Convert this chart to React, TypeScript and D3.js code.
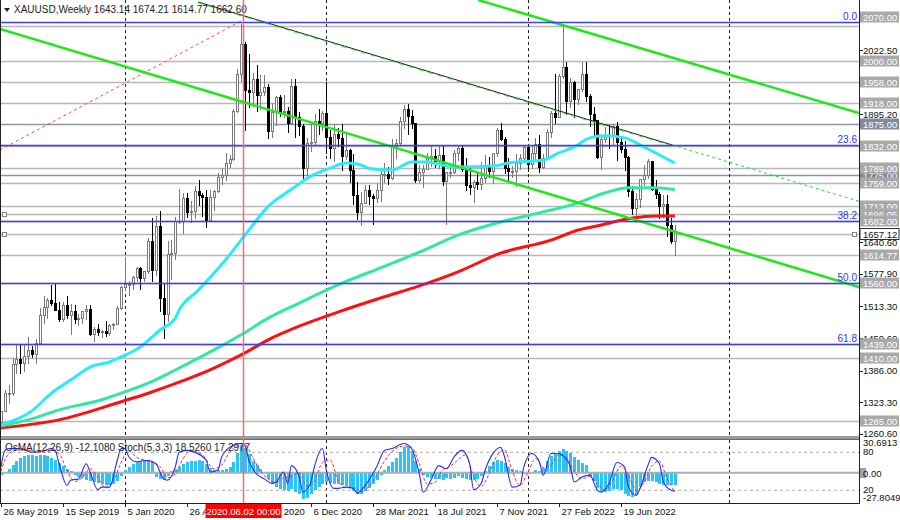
import React from 'react';
import * as d3 from 'd3';

// weekly XAUUSD bars, 26 May 2019 .. 25 Sep 2022
const opens = [
  1283, 1305, 1341, 1341, 1399, 1409, 1400, 1415, 1426, 1419,
  1440, 1497, 1513, 1526, 1520, 1507, 1488, 1517, 1497, 1505,
  1489, 1490, 1505, 1509, 1459, 1468, 1462, 1464, 1460, 1476,
  1478, 1511, 1552, 1557, 1557, 1571, 1589, 1570, 1584, 1643,
  1585, 1673, 1530, 1498, 1617, 1620, 1683, 1683, 1729, 1700,
  1702, 1743, 1735, 1730, 1685, 1730, 1743, 1771, 1774, 1799,
  1807, 1902, 1975, 2035, 1944, 1940, 1964, 1933, 1940, 1950,
  1861, 1900, 1930, 1899, 1902, 1878, 1951, 1889, 1871, 1788,
  1838, 1839, 1881, 1877, 1898, 1849, 1828, 1856, 1847, 1813,
  1823, 1784, 1734, 1700, 1719, 1745, 1732, 1728, 1744, 1777,
  1777, 1769, 1831, 1838, 1881, 1905, 1891, 1877, 1764, 1781,
  1787, 1808, 1812, 1802, 1814, 1763, 1780, 1781, 1817, 1827,
  1787, 1754, 1750, 1761, 1757, 1768, 1793, 1783, 1818, 1864,
  1845, 1788, 1783, 1783, 1798, 1808, 1829, 1797, 1817, 1835,
  1791, 1808, 1859, 1898, 1889, 1970, 1988, 1921, 1958, 1925,
  1945, 1975, 1932, 1896, 1883, 1811, 1846, 1853, 1851, 1871,
  1840, 1826, 1811, 1742, 1708, 1727, 1766, 1775, 1802, 1747,
  1737, 1712, 1716, 1675, 1643.14,
];
const highs = [
  1306, 1348, 1358, 1411, 1439, 1437, 1439, 1452, 1434, 1449,
  1510, 1535, 1531, 1555, 1557, 1523, 1523, 1535, 1519, 1517,
  1499, 1505, 1517, 1516, 1472, 1478, 1466, 1484, 1479, 1481,
  1514, 1553, 1611, 1563, 1574, 1591, 1591, 1584, 1649, 1689,
  1692, 1703, 1560, 1644, 1645, 1690, 1747, 1739, 1738, 1723,
  1752, 1765, 1739, 1745, 1745, 1745, 1779, 1789, 1818, 1814,
  1905, 1984, 2075, 2039, 2015, 1976, 1992, 1973, 1973, 1955,
  1917, 1932, 1933, 1934, 1910, 1965, 1965, 1900, 1875, 1847,
  1875, 1896, 1906, 1902, 1959, 1863, 1875, 1868, 1875, 1855,
  1826, 1815, 1760, 1740, 1755, 1755, 1736, 1758, 1784, 1798,
  1790, 1845, 1846, 1890, 1913, 1916, 1903, 1878, 1795, 1795,
  1818, 1834, 1825, 1832, 1832, 1780, 1795, 1823, 1834, 1834,
  1809, 1788, 1765, 1781, 1800, 1814, 1810, 1818, 1868, 1877,
  1849, 1808, 1793, 1815, 1815, 1831, 1830, 1829, 1848, 1853,
  1815, 1865, 1902, 1974, 1975, 2070, 1999, 1966, 1960, 1945,
  1998, 1998, 1936, 1909, 1884, 1849, 1869, 1874, 1876, 1880,
  1847, 1841, 1813, 1752, 1739, 1767, 1795, 1807, 1802, 1765,
  1740, 1735, 1735, 1688, 1674.21,
];
const lows = [
  1279, 1305, 1322, 1338, 1382, 1381, 1386, 1401, 1412, 1400,
  1440, 1480, 1491, 1517, 1506, 1485, 1484, 1490, 1459, 1481,
  1476, 1480, 1488, 1456, 1445, 1456, 1452, 1455, 1456, 1469,
  1478, 1509, 1545, 1536, 1547, 1563, 1547, 1563, 1580, 1563,
  1576, 1504, 1451, 1484, 1567, 1607, 1679, 1660, 1690, 1680,
  1688, 1715, 1693, 1671, 1683, 1704, 1740, 1757, 1764, 1791,
  1805, 1900, 1960, 1863, 1910, 1911, 1902, 1906, 1934, 1848,
  1849, 1873, 1891, 1890, 1859, 1876, 1850, 1853, 1764, 1775,
  1822, 1836, 1855, 1863, 1817, 1808, 1803, 1831, 1785, 1806,
  1760, 1717, 1687, 1676, 1719, 1717, 1677, 1721, 1723, 1760,
  1756, 1766, 1808, 1836, 1868, 1856, 1867, 1761, 1761, 1750,
  1786, 1792, 1790, 1789, 1755, 1677, 1770, 1778, 1805, 1782,
  1745, 1737, 1721, 1746, 1746, 1760, 1770, 1759, 1812, 1843,
  1778, 1762, 1770, 1753, 1786, 1801, 1782, 1789, 1806, 1780,
  1788, 1808, 1849, 1878, 1889, 1966, 1895, 1910, 1890, 1915,
  1941, 1921, 1872, 1850, 1808, 1787, 1840, 1828, 1836, 1805,
  1820, 1784, 1732, 1697, 1681, 1711, 1754, 1768, 1745, 1728,
  1688, 1691, 1654, 1639, 1614.77,
];
const closes = [
  1305, 1341, 1341, 1399, 1409, 1400, 1415, 1426, 1419, 1440,
  1497, 1513, 1526, 1520, 1507, 1488, 1517, 1497, 1505, 1489,
  1490, 1505, 1509, 1459, 1468, 1462, 1464, 1460, 1476, 1478,
  1511, 1552, 1557, 1557, 1571, 1589, 1570, 1584, 1643, 1585,
  1673, 1530, 1498, 1617, 1620, 1683, 1683, 1729, 1700, 1702,
  1743, 1735, 1730, 1685, 1730, 1743, 1771, 1774, 1799, 1807,
  1902, 1975, 2035, 1944, 1940, 1964, 1933, 1940, 1950, 1861,
  1900, 1930, 1899, 1902, 1878, 1951, 1889, 1871, 1788, 1838,
  1839, 1881, 1877, 1898, 1849, 1828, 1856, 1847, 1813, 1823,
  1784, 1734, 1700, 1719, 1745, 1732, 1728, 1744, 1777, 1777,
  1769, 1831, 1838, 1881, 1905, 1891, 1877, 1764, 1781, 1787,
  1808, 1812, 1802, 1814, 1763, 1780, 1781, 1817, 1827, 1787,
  1754, 1750, 1761, 1757, 1768, 1793, 1783, 1818, 1864, 1845,
  1788, 1783, 1783, 1798, 1808, 1829, 1797, 1817, 1835, 1791,
  1808, 1859, 1898, 1889, 1970, 1988, 1921, 1958, 1925, 1945,
  1975, 1932, 1896, 1883, 1811, 1846, 1853, 1851, 1871, 1840,
  1826, 1811, 1742, 1708, 1727, 1766, 1775, 1802, 1747, 1737,
  1712, 1716, 1675, 1643, 1662.6,
];

// moving averages: [bar, price]
const maCyan = [
  [0, 1278], [8, 1306], [13, 1341], [18, 1367], [23, 1393], [28, 1403], [31, 1413],
  [36, 1433], [41, 1466], [45, 1490], [46, 1506], [51, 1546], [58, 1606], [64, 1665],
  [69, 1712], [75, 1746], [80, 1772], [85, 1788], [89, 1798], [92, 1796], [96, 1786],
  [101, 1784], [106, 1800], [110, 1800], [114, 1794], [118, 1790], [127, 1792],
  [131, 1798], [140, 1804], [144, 1818], [148, 1830], [152, 1848], [156, 1852],
  [161, 1848], [165, 1834], [169, 1818], [174, 1798],
];
const maGreen = [
  [0, 1276], [7, 1288], [15, 1308], [26, 1328], [31, 1341], [38, 1361], [46, 1391],
  [55, 1427], [62, 1457], [69, 1490], [77, 1520], [87, 1556], [98, 1590], [108, 1621],
  [118, 1655], [129, 1681], [139, 1699], [149, 1719], [156, 1739], [162, 1749],
  [169, 1749], [174, 1745],
];
const maRed = [
  [0, 1272], [15, 1288], [31, 1324], [38, 1341], [46, 1363], [55, 1391], [62, 1417],
  [69, 1447], [77, 1474], [87, 1502], [98, 1530], [108, 1554], [118, 1582], [129, 1619],
  [142, 1645], [149, 1665], [155, 1675], [163, 1689], [169, 1693], [174, 1693],
];

// OsMA(12,26,9), one value per bar
const osma = [
  -2, 1, 4, 8, 12, 15, 17, 18, 18, 17,
  18, 18, 17, 15, 13, 10, 7, 4, 2, -2,
  -4, -5, -7, -9, -10, -11, -12, -13, -13, -12,
  -8, -3, 3, 6, 9, 11, 12, 12, 13, 11,
  -4, -6, -7, -3, 2, 4, 6, 9, 11, 12,
  12, 13, 12, 9, 5, 3, 3, 3, 4, 6,
  11, 20, 28, 25, 19, 12, 8, 4, 1, -6,
  -12, -15, -17, -18, -19, -17, -20, -22, -27, -26,
  -22, -18, -15, -12, -10, -11, -12, -12, -13, -14,
  -16, -19, -22, -22, -19, -16, -12, -7, -2, 3,
  7, 11, 15, 21, 26, 27, 22, 12, 4, -2,
  -4, -5, -6, -6, -7, -5, -6, -5, -3, -5,
  -6, -7, -7, -6, -3, 2, 7, 11, 13, 12,
  10, 6, 4, 3, 2, 1, -1, 1, 3, 2,
  5, 12, 17, 20, 22, 24, 22, 20, 16, 13,
  10, 8, -3, -9, -16, -20, -20, -19, -17, -17,
  -18, -22, -24, -25, -23, -15, -10, -9, -9, -10,
  -12, -13, -13, -13, -12.108,
];

// Stoch(5,3,3): [bar, value]
const stochMain = [
  [0, 57], [1, 83], [2, 86], [4, 86], [6, 84], [8, 80], [11, 82], [13, 86], [14, 83],
  [15, 62], [17, 28], [18, 36], [20, 38], [22, 62], [23, 49], [25, 21], [26, 25],
  [28, 25], [30, 67], [31, 86], [32, 86], [33, 73], [35, 65], [37, 67], [38, 67],
  [40, 62], [42, 38], [43, 36], [45, 57], [46, 80], [48, 83], [50, 80], [53, 67],
  [54, 49], [56, 52], [57, 73], [60, 91], [62, 94], [63, 91], [64, 67], [66, 46],
  [68, 38], [70, 31], [71, 33], [73, 49], [74, 31], [75, 59], [77, 41], [78, 17],
  [79, 22], [80, 33], [81, 59], [83, 86], [84, 52], [86, 23], [87, 23], [89, 25],
  [91, 23], [92, 15], [93, 20], [95, 36], [97, 57], [99, 83], [101, 86], [104, 94],
  [106, 86], [108, 46], [109, 17], [111, 36], [113, 59], [115, 54], [117, 73],
  [119, 83], [121, 62], [122, 21], [124, 31], [125, 52], [127, 78], [129, 88],
  [130, 73], [132, 25], [134, 28], [135, 57], [137, 78], [139, 65], [140, 44],
  [142, 78], [144, 78], [145, 75], [147, 57], [148, 33], [150, 41], [152, 44],
  [154, 20], [155, 17], [157, 31], [159, 64], [161, 57], [162, 25], [164, 12],
  [165, 23], [167, 59], [168, 72], [170, 62], [171, 33], [173, 20], [174, 18.526],
];
const stochSignal = [
  [0, 50], [1, 68], [3, 82], [5, 86], [8, 82], [11, 80], [13, 83], [15, 78], [17, 52],
  [19, 34], [21, 40], [23, 54], [25, 40], [27, 24], [29, 34], [31, 64], [33, 82],
  [35, 72], [38, 66], [41, 58], [43, 40], [45, 46], [47, 70], [49, 82], [52, 76],
  [55, 54], [57, 60], [59, 80], [61, 90], [63, 92], [65, 72], [67, 50], [69, 38],
  [71, 32], [73, 40], [75, 42], [77, 48], [79, 26], [81, 36], [83, 64], [85, 68],
  [87, 36], [89, 24], [91, 24], [93, 18], [95, 26], [97, 44], [99, 66], [102, 86],
  [104, 90], [106, 88], [108, 62], [110, 30], [112, 32], [114, 52], [116, 58],
  [118, 68], [120, 76], [122, 42], [124, 26], [126, 46], [128, 74], [130, 84],
  [132, 50], [134, 28], [136, 48], [138, 70], [140, 56], [142, 60], [144, 76],
  [146, 72], [148, 50], [150, 38], [152, 42], [154, 30], [156, 20], [158, 36],
  [160, 58], [162, 44], [164, 20], [166, 32], [168, 58], [170, 66], [172, 38],
  [174, 17.298],
];

// drawn objects: [bar, price] end points
const trendLower = [[-0.26, 2064.2], [221.5, 1551.9]];
const trendUpper = [[123.2, 2121.8], [221.5, 1897.4]];
const trendMid = [[50.9, 2117.8], [173.3, 1833.9]];
const trendMidExt = [[173.3, 1833.9], [221.5, 1722.1]];
const trendRed = [[-0.26, 1823.9], [62, 2080]];

const levelPrices = [2070, 2000, 1958, 1918, 1875, 1832, 1775, 1789, 1759, 1713, 1696.05, 1682, 1614.77, 1560, 1439, 1410, 1285, 1657.12];
const levelDark = [1875, 1775];
const fibNames = ['0.0', '23.6', '38.2', '50.0', '61.8'];
const fibPrices = [2078, 1833.5, 1682.3, 1560, 1437.8];

const priceTicks = [2085.2, 2022.5, 1959.8, 1895.2, 1832.5, 1767.9, 1705.2, 1640.6, 1577.9, 1513.3, 1450.6, 1386.0, 1323.3, 1260.6];
const timeLabels = ['26 May 2019', '15 Sep 2019', '5 Jan 2020', '26 Apr 2020', '16 Aug 2020', '6 Dec 2020', '28 Mar 2021', '18 Jul 2021', '7 Nov 2021', '27 Feb 2022', '19 Jun 2022'];
const yearStarts = [32, 84, 136, 188];
const crossBar = 62.5;

const FONT = '"Liberation Sans", Arial, sans-serif';

export default function App() {
  const W = 900, H = 520;
  const R = 859;            // right edge of the plot
  const mainBottom = 436;
  const oscTop = 440, oscBottom = 503;

  const x = d3.scaleLinear().domain([0, 160]).range([1, 620.7]);
  const y = d3.scaleLinear().domain([1260.6, 2022.5]).range([433.7, 50]);
  const yO = d3.scaleLinear().domain([0, 30.6913]).range([472.7, 442.7]);
  const yS = d3.scaleLinear().domain([20, 80]).range([490.3, 452.3]);

  const ma = d3.line<number[]>().x(d => x(d[0])).y(d => y(d[1])).curve(d3.curveMonotoneX);
  const seg = d3.line<number[]>().x(d => x(d[0])).y(d => y(d[1]));
  const st = d3.line<number[]>().x(d => x(d[0])).y(d => yS(d[1])).curve(d3.curveMonotoneX);

  const candles = closes.map((c, i) => ({ i, o: opens[i], h: highs[i], l: lows[i], c }));
  const crossX = Math.round(x(crossBar)) + 0.5;
  // top label sits higher than its line in the terminal
  const labelY = (p: number) => (p === 2070 ? Math.round(y(p)) - 9 : Math.round(y(p)));

  return (
    <svg width={W} height={H} style={{ position: 'absolute', left: 0, top: 0, background: '#fff' }} fontFamily={FONT}>
      <defs>
        <clipPath id="mainClip"><rect x={0} y={0} width={R} height={mainBottom} /></clipPath>
        <clipPath id="oscClip"><rect x={0} y={oscTop} width={R} height={oscBottom - oscTop} /></clipPath>
      </defs>
      <rect x={0} y={0} width={W} height={H} fill="#fff" />

      <g clipPath="url(#mainClip)">
        {/* horizontal levels */}
        {levelPrices.map(p => (
          <line key={p} x1={0} x2={R} y1={Math.round(y(p)) + 0.5} y2={Math.round(y(p)) + 0.5}
            stroke={levelDark.includes(p) ? '#8a96a6' : '#b8b8b8'} strokeWidth={1.5} />
        ))}
        {/* year grid */}
        {yearStarts.map(b => (
          <line key={b} x1={Math.round(x(b)) + 0.5} x2={Math.round(x(b)) + 0.5} y1={0} y2={mainBottom}
            stroke="#222" strokeDasharray="3,3" />
        ))}
        {/* candles */}
        {candles.map(d => {
          const cx = Math.round(x(d.i));
          const up = d.c >= d.o;
          const top = Math.round(y(Math.max(d.o, d.c)));
          const bot = Math.round(y(Math.min(d.o, d.c)));
          const col = up ? '#7a7a7a' : '#000';
          return (
            <g key={d.i} shapeRendering="crispEdges">
              <line x1={cx + 0.5} x2={cx + 0.5} y1={Math.round(y(d.h))} y2={Math.round(y(d.l)) + 1} stroke={col} />
              <rect x={cx - 0.5} y={top + 0.5} width={2} height={Math.max(bot - top, 1)} fill={up ? '#fff' : '#000'} stroke={col} />
            </g>
          );
        })}
        {/* moving averages */}
        <path d={ma(maRed) || ''} fill="none" stroke="#ff1010" strokeWidth={3} />
        <path d={ma(maGreen) || ''} fill="none" stroke="#30e8a0" strokeWidth={3} />
        <path d={ma(maCyan) || ''} fill="none" stroke="#28ecf8" strokeWidth={3} />
        {/* trend lines */}
        <path d={seg(trendRed) || ''} fill="none" stroke="#ff4a4a" strokeWidth={1} strokeDasharray="3,3" />
        <path d={seg(trendMid) || ''} fill="none" stroke="#1a1a1a" strokeWidth={1} />
        <path d={seg(trendMid) || ''} fill="none" stroke="#22dd22" strokeWidth={1} strokeDasharray="5,5" transform="translate(0,0.8)" />
        <path d={seg(trendMidExt) || ''} fill="none" stroke="#22e022" strokeWidth={1} strokeDasharray="3,3" />
        <path d={seg(trendLower) || ''} fill="none" stroke="#22e81a" strokeWidth={2.5} />
        <path d={seg(trendUpper) || ''} fill="none" stroke="#22e81a" strokeWidth={2.5} />
        {/* fibonacci */}
        {fibPrices.map((p, k) => (
          <g key={p}>
            <line x1={0} x2={R} y1={Math.round(y(p)) + 0.5} y2={Math.round(y(p)) + 0.5} stroke="#3c3cff" strokeWidth={1.5} />
            <text x={R - 2} y={Math.round(y(p)) - 2} textAnchor="end" fontSize={10} fill="#3434ff">{fibNames[k]}</text>
          </g>
        ))}
        {/* selected line handles */}
        {[1696.05, 1657.12].map(p => (
          <rect key={p} x={2.5} y={Math.round(y(p)) - 1.5} width={4} height={4} fill="#fff" stroke="#808080" />
        ))}
        <rect x={R - 6.5} y={Math.round(y(1657.12)) - 1.5} width={4} height={4} fill="#fff" stroke="#808080" />
      </g>

      {/* header */}
      <path d="M4,8 L10,8 L7,12 Z" fill="#222" />
      <text x={14} y={13} fontSize={10} fill="#222">XAUUSD,Weekly  1643.14 1674.21 1614.77 1662.60</text>

      {/* panel separator */}
      <rect x={0} y={mainBottom} width={R} height={oscTop - mainBottom} fill="#9c9c9c" />
      <line x1={0} x2={R} y1={oscTop - 0.5} y2={oscTop - 0.5} stroke="#6a6a6a" />

      {/* oscillator */}
      <g clipPath="url(#oscClip)">
        {yearStarts.map(b => (
          <line key={b} x1={Math.round(x(b)) + 0.5} x2={Math.round(x(b)) + 0.5} y1={oscTop} y2={oscBottom}
            stroke="#222" strokeDasharray="3,3" />
        ))}
        <line x1={0} x2={R} y1={yS(80)} y2={yS(80)} stroke="#b0b0b0" strokeDasharray="3,3" />
        <line x1={0} x2={R} y1={yS(20)} y2={yS(20)} stroke="#b0b0b0" strokeDasharray="3,3" />
        {osma.map((v, i) => {
          const cx = Math.round(x(i));
          const y0 = yO(0), y1 = yO(v);
          return <rect key={i} x={cx - 1} y={Math.min(y0, y1)} width={3} height={Math.abs(y1 - y0)} fill="#2cc4f4" shapeRendering="crispEdges" />;
        })}
        <line x1={0} x2={R} y1={yO(0)} y2={yO(0)} stroke="#a8b0b8" strokeWidth={2} />
        <path d={st(stochSignal) || ''} fill="none" stroke="#ff2a2a" strokeWidth={1} strokeDasharray="3,2" />
        <path d={st(stochMain) || ''} fill="none" stroke="#2a2aff" strokeWidth={1.1} />
      </g>
      <text x={5} y={451} fontSize={10} fill="#222">OsMA(12,26,9) -12.1080  Stoch(5,3,3) 18.5260 17.2977</text>

      {/* crosshair */}
      <line x1={crossX} x2={crossX} y1={0} y2={oscBottom} stroke="#ff6a6a" strokeWidth={1.5} />

      {/* frame */}
      <line x1={0.5} x2={0.5} y1={0} y2={oscBottom} stroke="#222" />
      <line x1={R + 0.5} x2={R + 0.5} y1={0} y2={oscBottom} stroke="#222" />
      <line x1={0} x2={R + 1} y1={oscBottom + 0.5} y2={oscBottom + 0.5} stroke="#222" />

      {/* price axis */}
      {priceTicks.map(p => (
        <g key={p}>
          <line x1={R} x2={R + 4} y1={Math.round(y(p)) + 0.5} y2={Math.round(y(p)) + 0.5} stroke="#222" />
          <text x={R + 4} y={y(p) + 3.5} fontSize={9.5} fill="#111">{p.toFixed(2)}</text>
        </g>
      ))}
      {levelPrices.map(p => {
        const cy = labelY(p);
        const cur = p === 1657.12;
        const dark = levelDark.includes(p);
        return (
          <g key={'l' + p}>
            <rect x={R + 1} y={cy - 5.5} width={39} height={11} fill={cur ? '#fff' : dark ? '#7f8b9b' : '#a9a9a9'} stroke={cur ? '#333' : 'none'} />
            <text x={R + 4} y={cy + 3.5} fontSize={9.5} fill={cur ? '#111' : '#fff'}>{p.toFixed(2)}</text>
          </g>
        );
      })}

      {/* oscillator axis */}
      <text x={R + 4} y={446} fontSize={9.5} fill="#111">30.6913</text>
      <text x={R + 4} y={455} fontSize={9.5} fill="#111">80</text>
      <rect x={R + 1} y={468} width={6} height={10} fill="#9aa2ac" />
      <text x={R + 4} y={476.5} fontSize={9.5} fill="#111">0.00</text>
      <text x={R + 4} y={493} fontSize={9.5} fill="#111">20</text>
      <text x={R + 4} y={500.5} fontSize={9.5} fill="#111">-27.8049</text>

      {/* time axis */}
      {timeLabels.map((t, k) => {
        const tx = Math.round(x(k * 16)) + 0.5;
        return (
          <g key={t}>
            <line x1={tx} x2={tx} y1={oscBottom} y2={oscBottom + 4} stroke="#222" />
            <text x={tx + 2} y={515} fontSize={9.5} fill="#111">{t}</text>
          </g>
        );
      })}
      <rect x={crossX - 38} y={504} width={76} height={14} fill="#ff0000" />
      <text x={crossX} y={515} fontSize={9.5} fill="#fff" textAnchor="middle">2020.08.02 00:00</text>
    </svg>
  );
}
